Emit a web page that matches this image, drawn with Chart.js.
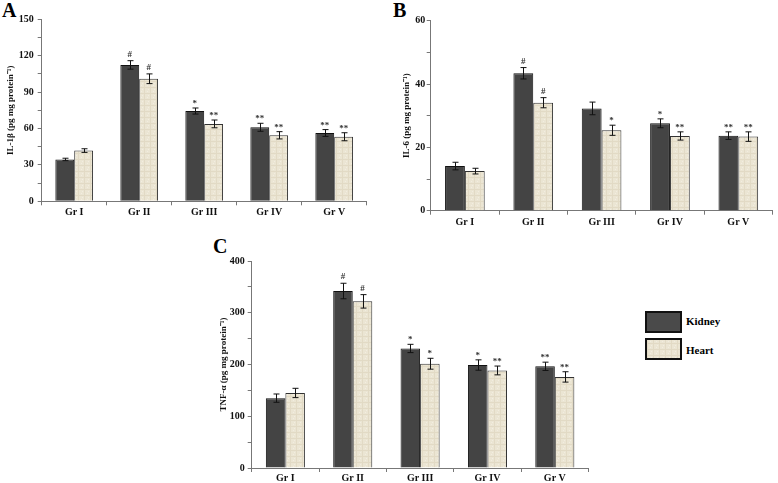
<!DOCTYPE html>
<html>
<head>
<meta charset="utf-8">
<script src="https://cdn.jsdelivr.net/npm/chart.js@4.4.1/dist/chart.umd.min.js"></script>
<style>
  html, body { margin: 0; padding: 0; background: #fff; overflow: hidden; }
  body { width: 778px; height: 483px; position: relative; font-family: "Liberation Serif", serif; }
  .panel { position: absolute; }
  .letter { position: absolute; font: bold 20px/20px "Liberation Serif", serif; color: #000; }
  .key { position: absolute; width: 33px; height: 18px; border: 2px solid #111; }
  .keytext { position: absolute; font: bold 11px/12px "Liberation Serif", serif; color: #000; }
</style>
</head>
<body>
<div class="letter" style="left:2px;top:0px">A</div>
<div class="letter" style="left:393px;top:0px">B</div>
<div class="letter" style="left:213px;top:236px">C</div>

<div class="panel" style="left:0;top:0;width:380px;height:230px"><canvas id="chartA"></canvas></div>
<div class="panel" style="left:390px;top:0;width:388px;height:240px"><canvas id="chartB"></canvas></div>
<div class="panel" style="left:200px;top:225px;width:400px;height:258px"><canvas id="chartC"></canvas></div>

<div class="key" style="left:645px;top:311px;background:#4a4a4a"></div>
<div class="keytext" style="left:686px;top:315px">Kidney</div>
<div class="key" id="heartKey" style="left:645px;top:338px;background:#e8e1cd"></div>
<div class="keytext" style="left:686px;top:344px">Heart</div>

<script>
var groups = ['Gr I', 'Gr II', 'Gr III', 'Gr IV', 'Gr V'];

// panel A - IL-1beta
var il1bKidney = [34.5, 112.4, 74.4, 61, 56.3];
var il1bHeart = [41.8, 101, 63.8, 54.4, 53.2];
var il1bKidneyErr = [1, 3.5, 2.5, 3.3, 2.8];
var il1bHeartErr = [1.5, 4, 3.2, 3, 3.3];
var il1bKidneyMarks = ['', '#', '*', '**', '**'];
var il1bHeartMarks = ['', '#', '**', '**', '**'];
var il1bTicks = [0, 30, 60, 90, 120, 150];

// panel B - IL-6
var il6Kidney = [14.1, 43.4, 32.3, 27.6, 23.7];
var il6Heart = [12.5, 34.1, 25.4, 23.6, 23.4];
var il6KidneyErr = [1.2, 1.8, 2, 1.4, 1.2];
var il6HeartErr = [0.9, 1.6, 1.6, 1.3, 1.5];
var il6KidneyMarks = ['', '#', '', '*', '**'];
var il6HeartMarks = ['', '#', '*', '**', '**'];
var il6Ticks = [0, 20, 40, 60];

// panel C - TNF-alpha
var tnfKidney = [135, 342, 231, 199, 196.5];
var tnfHeart = [145, 322, 201.5, 188.5, 176];
var tnfKidneyErr = [8, 15, 8, 10, 8];
var tnfHeartErr = [9, 13, 10.5, 8.5, 10];
var tnfKidneyMarks = ['', '#', '*', '*', '**'];
var tnfHeartMarks = ['', '#', '*', '**', '**'];
var tnfTicks = [0, 100, 200, 300, 400];

// beige texture for the heart bars (kept faint)
var pc = document.createElement('canvas');
pc.width = 6; pc.height = 6;
var pctx = pc.getContext('2d');
pctx.fillStyle = '#ebe5d3';
pctx.fillRect(0, 0, 6, 6);
pctx.fillStyle = '#e2dac5';
pctx.fillRect(0, 0, 1, 6);
pctx.fillRect(0, 3, 6, 1);
pctx.fillStyle = '#f2ede0';
pctx.fillRect(3, 1, 1, 1);
pctx.fillRect(4, 5, 1, 1);
var heartFill = pctx.createPattern(pc, 'repeat');
document.getElementById('heartKey').style.background = 'url(' + pc.toDataURL() + ')';

var errorBars = {
  id: 'errorBars',
  afterDatasetsDraw: function(chart) {
    var ctx = chart.ctx;
    var y = chart.scales.y;
    chart.data.datasets.forEach(function(ds, i) {
      var meta = chart.getDatasetMeta(i);
      meta.data.forEach(function(bar, j) {
        var v = ds.data[j], e = ds.errors[j];
        var top = y.getPixelForValue(v + e);
        var bot = y.getPixelForValue(v - e);
        var x = Math.round(bar.x) + 0.5;
        ctx.save();
        ctx.strokeStyle = '#111';
        ctx.lineWidth = 1;
        ctx.beginPath();
        ctx.moveTo(x, top); ctx.lineTo(x, bot);
        ctx.moveTo(x - 3, top); ctx.lineTo(x + 3, top);
        ctx.moveTo(x - 3, bot); ctx.lineTo(x + 3, bot);
        ctx.stroke();
        if (ds.marks[j]) {
          ctx.fillStyle = '#333';
          ctx.font = 'bold 9px "Liberation Serif"';
          ctx.textAlign = 'center';
          ctx.textBaseline = 'alphabetic';
          ctx.fillText(ds.marks[j], bar.x, top - (ds.marks[j] === '#' ? 4 : 2));
        }
        ctx.restore();
      });
    });
  }
};

function makeChart(id, kidney, heart, kErr, hErr, kMarks, hMarks, max, step, labelled, title, geo) {
  var ctx = document.getElementById(id).getContext('2d');
  return new Chart(ctx, {
    type: 'bar',
    data: {
      labels: groups,
      datasets: [
        {
          label: 'Kidney',
          data: kidney,
          errors: kErr,
          marks: kMarks,
          backgroundColor: '#444444',
          borderColor: '#111111',
          borderWidth: 1,
          categoryPercentage: 0.58,
          barPercentage: 1
        },
        {
          label: 'Heart',
          data: heart,
          errors: hErr,
          marks: hMarks,
          backgroundColor: heartFill,
          borderColor: '#333333',
          borderWidth: 1,
          categoryPercentage: 0.58,
          barPercentage: 1
        }
      ]
    },
    options: {
      responsive: true,
      maintainAspectRatio: false,
      animation: false,
      layout: {
        padding: { left: 0, right: geo.right, top: geo.top, bottom: 0 }
      },
      scales: {
        x: {
          grid: { drawOnChartArea: false, tickLength: 4, color: '#777', offset: true },
          border: { color: '#777' },
          ticks: {
            color: '#111',
            padding: geo.xPad,
            font: { family: 'Liberation Serif', size: 10, weight: 'bold' }
          },
          afterFit: function(scale) { scale.height = geo.xHeight; }
        },
        y: {
          min: 0,
          max: max,
          grid: { drawOnChartArea: false, tickLength: 4, color: '#777' },
          border: { color: '#777' },
          ticks: {
            stepSize: step,
            color: '#111',
            padding: geo.yPad,
            font: { family: 'Liberation Serif', size: 10, weight: 'bold' },
            callback: function(v) { return labelled.indexOf(v) >= 0 ? v : ''; }
          },
          title: {
            display: true,
            text: title,
            color: '#111',
            padding: { top: geo.titlePad, bottom: 0 },
            font: { family: 'Liberation Serif', size: 9, weight: 'bold' }
          },
          afterFit: function(scale) { scale.width = geo.yWidth; }
        }
      },
      plugins: {
        legend: { display: false },
        tooltip: { enabled: false }
      }
    },
    plugins: [errorBars]
  });
}

makeChart('chartA', il1bKidney, il1bHeart, il1bKidneyErr, il1bHeartErr, il1bKidneyMarks, il1bHeartMarks,
  150, 15, il1bTicks, 'IL-1β (pg mg protein⁻¹)',
  { right: 13.3, top: 19.3, xHeight: 28.7, yWidth: 41.7, xPad: 1.5, yPad: 4, titlePad: 5.6 });

makeChart('chartB', il6Kidney, il6Heart, il6KidneyErr, il6HeartErr, il6KidneyMarks, il6HeartMarks,
  60, 10, il6Ticks, 'IL-6 (pg mg protein⁻¹)',
  { right: 5.5, top: 20.7, xHeight: 29.3, yWidth: 40.7, xPad: 1.5, yPad: 1.5, titlePad: 11.3 });

makeChart('chartC', tnfKidney, tnfHeart, tnfKidneyErr, tnfHeartErr, tnfKidneyMarks, tnfHeartMarks,
  400, 50, tnfTicks, 'TNF-α (pg mg protein⁻¹)',
  { right: 11.5, top: 36, xHeight: 15, yWidth: 51.7, xPad: 0.5, yPad: 3, titlePad: 17.9 });
</script>
</body>
</html>
